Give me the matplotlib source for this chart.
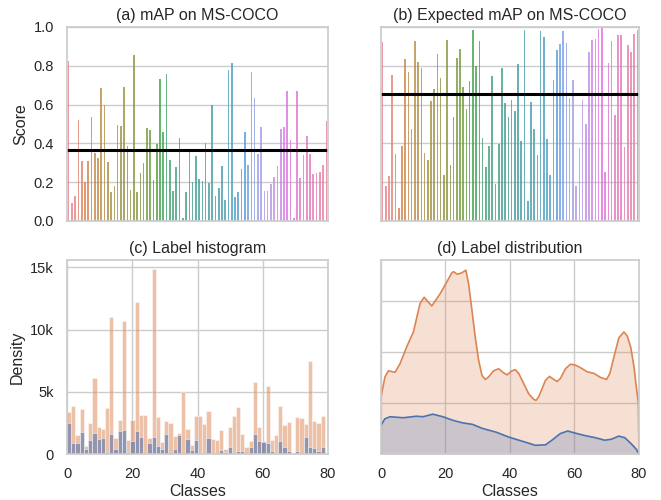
import matplotlib
matplotlib.use("Agg")
import matplotlib.pyplot as plt
import matplotlib.ticker as mticker
import numpy as np
import seaborn as sns

# per-class mAP on MS-COCO (80 classes)
map_scores = [
    0.823, 0.095, 0.13, 0.52, 0.31, 0.20, 0.31, 0.535, 0.35, 0.325,
    0.687, 0.60, 0.305, 0.15, 0.18, 0.495, 0.49, 0.69, 0.385, 0.16,
    0.857, 0.15, 0.25, 0.30, 0.48, 0.47, 0.21, 0.395, 0.733, 0.46,
    0.757, 0.315, 0.153, 0.28, 0.427, 0.017, 0.151, 0.36, 0.20, 0.335,
    0.217, 0.208, 0.403, 0.195, 0.60, 0.13, 0.172, 0.286, 0.108, 0.778,
    0.817, 0.124, 0.15, 0.268, 0.458, 0.289, 0.766, 0.635, 0.346, 0.482,
    0.153, 0.153, 0.193, 0.227, 0.286, 0.473, 0.485, 0.668, 0.418, 0.015,
    0.668, 0.224, 0.342, 0.44, 0.344, 0.244, 0.25, 0.253, 0.289, 0.513,
]

# per-class expected mAP
exp_scores = [
    0.924, 0.182, 0.23, 0.753, 0.347, 0.069, 0.387, 0.833, 0.77, 0.474,
    0.93, 0.82, 0.789, 0.349, 0.314, 0.619, 0.68, 0.86, 0.735, 0.235,
    0.935, 0.29, 0.536, 0.84, 0.887, 0.689, 0.579, 0.72, 0.985, 0.799,
    0.928, 0.428, 0.278, 0.385, 0.749, 0.192, 0.397, 0.789, 0.61, 0.536,
    0.622, 0.569, 0.809, 0.414, 0.983, 0.101, 0.613, 0.476, 0.34, 0.979,
    0.95, 0.424, 0.235, 0.727, 0.881, 0.914, 0.978, 0.916, 0.634, 0.727,
    0.179, 0.375, 0.625, 0.502, 0.869, 0.935, 0.938, 0.988, 0.993, 0.251,
    0.813, 0.93, 0.546, 0.96, 0.96, 0.383, 0.907, 0.873, 0.962, 0.985,
]

map_mean = 0.368
exp_mean = 0.656

# label histogram counts (61 bins over classes 0..79)
hist_all = [
    3370, 3886, 1522, 3641, 625, 2500, 6087, 2174, 1984, 3668,
    10995, 1277, 2717, 10672, 1114, 2772, 12231, 3098, 3098, 1304,
    14892, 2989, 978, 2663, 2500, 1440, 1712, 5000, 2011, 707,
    3016, 3016, 2418, 3478, 1196, 1114, 1929, 380, 2147, 3016,
    3804, 1576, 571, 1033, 5760, 2147, 1060, 5462, 1114, 1549,
    3832, 2310, 2582, 27, 2962, 2880, 2418, 7480, 2663, 2473,
    3016,
]
hist_sub = [
    2473, 897, 897, 1739, 435, 1087, 1712, 1168, 1250, 163,
    1630, 435, 1848, 1902, 163, 1033, 1848, 1332, 82, 897,
    1332, 652, 435, 1630, 82, 435, 1522, 109, 1168, 353,
    1087, 82, 82, 1250, 82, 27, 299, 163, 598, 82,
    272, 272, 82, 598, 1576, 1033, 978, 924, 245, 82,
    1033, 571, 245, 0, 245, 27, 1386, 571, 516, 217,
    571,
]

# label distribution curves
kde_all_x = [0, 1.24, 2.28, 4.35, 5.91, 7.98, 10.05, 12.12, 13.37, 15.75, 18.34,
             20.41, 21.97, 22.49, 23.73, 25.08, 26.32, 27.15, 28.19, 29.22,
             30.26, 31.3, 32.33, 33.37, 34.92, 36.48, 38.03, 39.07, 40.62,
             41.66, 42.69, 44.25, 45.8, 47.36, 48.08, 48.91, 49.95, 50.98,
             52.23, 53.58, 54.61, 55.65, 57.2, 58.76, 60.31, 61.87, 63.94,
             66.01, 68.08, 69.95, 70.98, 72.23, 73.78, 75.34, 76.37, 77.41,
             78.45, 79.17, 79.79, 80]
kde_all_y = [1.12, 1.51, 1.63, 1.6, 1.77, 2.1, 2.39, 2.95, 3.07, 2.9, 3.14,
             3.37, 3.55, 3.57, 3.52, 3.55, 3.6, 3.34, 2.82, 2.29, 1.84, 1.54,
             1.46, 1.51, 1.63, 1.67, 1.59, 1.55, 1.63, 1.65, 1.58, 1.38, 1.18,
             1.07, 1.05, 1.12, 1.28, 1.44, 1.52, 1.46, 1.42, 1.48, 1.67, 1.76,
             1.74, 1.69, 1.61, 1.58, 1.5, 1.46, 1.58, 1.9, 2.28, 2.39, 2.31,
             2.1, 1.71, 1.31, 1.0, 0.0]
kde_sub_x = [0, 1.2, 2.8, 6.9, 11, 13, 16.1, 19.2, 22.3, 25.3, 28.4, 31.5, 35.6,
             39.7, 43.8, 47.9, 51, 53, 55.6, 57.9, 60.2, 63.3, 66.4, 69.4, 71.5,
             73.7, 75.6, 77.6, 79.2, 80]
kde_sub_y = [0.56, 0.69, 0.73, 0.71, 0.74, 0.73, 0.78, 0.73, 0.66, 0.61, 0.58,
             0.50, 0.43, 0.33, 0.25, 0.17, 0.18, 0.27, 0.40, 0.45, 0.41, 0.36,
             0.32, 0.27, 0.29, 0.35, 0.32, 0.20, 0.09, 0.0]

sns.set_theme(style="whitegrid")
plt.rcParams["font.family"] = ["Liberation Sans", "DejaVu Sans"]
plt.rcParams["axes.edgecolor"] = "#cccccc"

blue = "#4C72B0"
orange = "#DD8452"
fs_title = 11.5
fs_tick = 10.5

fig = plt.figure(figsize=(6.61, 5.0), dpi=100)
ax_a = fig.add_axes([0.1014, 0.558, 0.3948, 0.388])
ax_b = fig.add_axes([0.5764, 0.558, 0.3903, 0.388])
ax_c = fig.add_axes([0.1014, 0.092, 0.3948, 0.388])
ax_d = fig.add_axes([0.5764, 0.092, 0.3903, 0.388])

colors = [sns.desaturate(c, 0.75) for c in sns.husl_palette(80)]
classes = np.arange(80)

for ax, vals, mean, title in [(ax_a, map_scores, map_mean, "(a) mAP on MS-COCO"),
                              (ax_b, exp_scores, exp_mean, "(b) Expected mAP on MS-COCO")]:
    ax.bar(classes, vals, width=0.5, color=colors, linewidth=0, alpha=0.8)
    ax.axhline(mean, color="black", lw=2.2)
    ax.set_xlim(-0.5, 79.5)
    ax.set_ylim(0, 1)
    ax.set_xticks([])
    ax.grid(axis="x", visible=False)
    ax.set_title(title, fontsize=fs_title, pad=5)
    ax.tick_params(labelsize=fs_tick)
ax_a.set_yticks(np.arange(0, 1.01, 0.2))
ax_a.yaxis.set_major_formatter(mticker.FormatStrFormatter("%.1f"))
ax_a.set_ylabel("Score", fontsize=fs_title)
ax_b.set_yticks(np.arange(0, 1.01, 0.2))
ax_b.set_yticklabels([])

edges = np.linspace(0, 79, len(hist_all) + 1)
ax_c.bar(edges[:-1], hist_all, width=np.diff(edges), align="edge",
         color=orange, alpha=0.5, edgecolor="white", linewidth=0.6)
ax_c.bar(edges[:-1], hist_sub, width=np.diff(edges), align="edge",
         color=blue, alpha=0.55, edgecolor="white", linewidth=0.6)
ax_c.set_xlim(0, 80)
ax_c.set_ylim(0, 15600)
ax_c.set_yticks([0, 5000, 10000, 15000])
ax_c.set_yticklabels(["0", "5k", "10k", "15k"])
ax_c.set_title("(c) Label histogram", fontsize=fs_title, pad=5)
ax_c.set_ylabel("Density", fontsize=fs_title)

ax_d.fill_between(kde_all_x, kde_all_y, color=orange, alpha=0.25, lw=0)
ax_d.plot(kde_all_x, kde_all_y, color=orange, lw=1.2)
ax_d.fill_between(kde_sub_x, kde_sub_y, color=blue, alpha=0.25, lw=0)
ax_d.plot(kde_sub_x, kde_sub_y, color=blue, lw=1.2)
ax_d.set_xlim(0, 80)
ax_d.set_ylim(0, 3.8)
ax_d.set_yticks([0, 1, 2, 3])
ax_d.set_yticklabels([])
ax_d.set_title("(d) Label distribution", fontsize=fs_title, pad=5)

for ax in (ax_c, ax_d):
    ax.set_xticks([0, 20, 40, 60, 80])
    ax.set_xlabel("Classes", fontsize=fs_title, labelpad=2)
    ax.tick_params(labelsize=fs_tick)

fig.savefig("out.png", dpi=100)
